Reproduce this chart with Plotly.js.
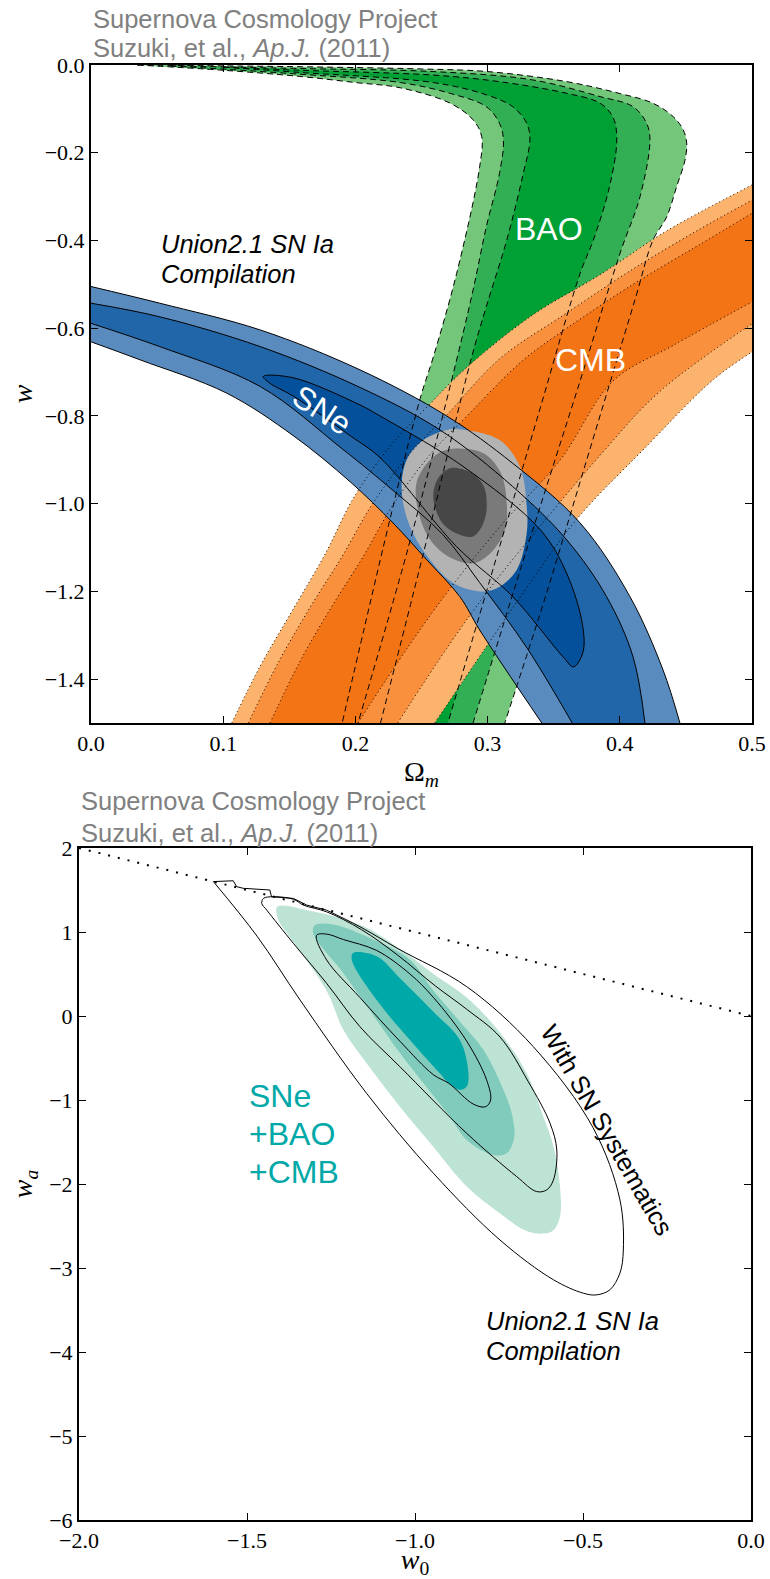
<!DOCTYPE html>
<html>
<head>
<meta charset="utf-8">
<script src="https://cdn.plot.ly/plotly-3.0.1.min.js"></script>
<style>html,body{margin:0;padding:0;background:#fff;}#chart{width:770px;height:1579px;}</style>
</head>
<body>
<div id="chart"></div>
<script>
// ---------- Top panel: Omega_m vs w (contour boundaries) ----------
// BAO (green), 3 levels: outer/inner boundary of each band
const bao3OuterOm = [0.035,0.10,0.16,0.25,0.30,0.36,0.40,0.425,0.4405,0.448,0.4506,0.4493,0.443,0.4355,0.425,0.412,0.393,0.37,0.345,0.313];
const bao3OuterW  = [0.0,-0.002,-0.004,-0.009,-0.015,-0.038,-0.065,-0.087,-0.118,-0.148,-0.178,-0.217,-0.277,-0.346,-0.40,-0.53,-0.72,-0.95,-1.20,-1.50];
const bao3InnerOm = [0.035,0.10,0.158,0.20,0.234,0.2716,0.289,0.2955,0.294,0.2766,0.259,0.249,0.225,0.207,0.19];
const bao3InnerW  = [0.0,-0.012,-0.026,-0.040,-0.052,-0.087,-0.125,-0.163,-0.232,-0.475,-0.665,-0.76,-1.05,-1.28,-1.5];
const bao2OuterOm = [0.06,0.158,0.259,0.334,0.385,0.41,0.4203,0.4228,0.4153,0.4002,0.37,0.33,0.289];
const bao2OuterW  = [-0.002,-0.008,-0.015,-0.034,-0.072,-0.095,-0.133,-0.171,-0.300,-0.429,-0.72,-1.10,-1.5];
const bao2InnerOm = [0.06,0.158,0.234,0.2716,0.299,0.309,0.312,0.309,0.299,0.289,0.2716,0.24,0.202];
const bao2InnerW  = [-0.002,-0.021,-0.040,-0.0646,-0.095,-0.133,-0.171,-0.247,-0.369,-0.513,-0.733,-1.10,-1.5];
const bao1OuterOm = [0.10,0.158,0.259,0.309,0.36,0.385,0.395,0.3977,0.392,0.38,0.37,0.34,0.305,0.27];
const bao1OuterW  = [-0.005,-0.012,-0.023,-0.038,-0.0646,-0.087,-0.12,-0.171,-0.28,-0.399,-0.475,-0.78,-1.14,-1.5];
const bao1InnerOm = [0.10,0.158,0.259,0.299,0.319,0.3296,0.332,0.327,0.3145,0.299,0.288,0.255,0.219];
const bao1InnerW  = [-0.005,-0.017,-0.040,-0.068,-0.095,-0.133,-0.171,-0.247,-0.399,-0.551,-0.665,-1.07,-1.5];

// CMB (orange): upper-left and lower-right boundary of each band
const cmb3UpOm = [0.1065,0.128,0.153,0.178,0.198,0.226,0.254,0.284,0.334,0.385,0.4355,0.5];
const cmb3UpW  = [-1.5,-1.37,-1.24,-1.11,-0.99,-0.87,-0.78,-0.69,-0.57,-0.478,-0.378,-0.2735];
const cmb3LoOm = [0.26,0.299,0.33,0.367,0.42,0.4705,0.5];
const cmb3LoW  = [-1.5,-1.326,-1.19,-1.037,-0.87,-0.718,-0.654];
const cmb2UpOm = [0.119,0.142,0.166,0.19,0.212,0.24,0.27,0.309,0.36,0.41,0.46,0.5];
const cmb2UpW  = [-1.5,-1.36,-1.235,-1.12,-1.005,-0.89,-0.795,-0.67,-0.565,-0.465,-0.375,-0.308];
const cmb2LoOm = [0.232,0.27,0.30,0.34,0.385,0.43,0.5];
const cmb2LoW  = [-1.5,-1.326,-1.2,-1.05,-0.89,-0.745,-0.59];
const cmb1UpOm = [0.1354,0.158,0.182,0.206,0.228,0.256,0.286,0.326,0.36,0.41,0.46,0.5];
const cmb1UpW  = [-1.5,-1.36,-1.235,-1.12,-1.005,-0.89,-0.795,-0.675,-0.60,-0.50,-0.41,-0.338];
const cmb1LoOm = [0.202,0.24,0.27,0.31,0.355,0.395,0.44,0.5];
const cmb1LoW  = [-1.5,-1.326,-1.2,-1.05,-0.9,-0.72,-0.64,-0.54];

// SNe (blue)
const sne3UpOm = [0,0.052,0.128,0.2035,0.269,0.319,0.37,0.4077,0.4327,0.4455];
const sne3UpW  = [-0.505,-0.543,-0.604,-0.695,-0.80,-0.908,-1.044,-1.212,-1.379,-1.5];
const sne3LoOm = [0,0.037,0.1026,0.153,0.196,0.2285,0.254,0.279,0.294,0.341];
const sne3LoW  = [-0.631,-0.672,-0.748,-0.845,-0.95,-1.044,-1.128,-1.212,-1.288,-1.5];
const sne2UpOm = [0,0.052,0.128,0.2035,0.264,0.319,0.36,0.39,0.41,0.419];
const sne2UpW  = [-0.543,-0.574,-0.642,-0.735,-0.832,-0.961,-1.083,-1.212,-1.349,-1.5];
const sne2LoOm = [0,0.052,0.128,0.19,0.2285,0.266,0.294,0.33,0.364];
const sne2LoW  = [-0.589,-0.642,-0.733,-0.875,-0.97,-1.07,-1.18,-1.33,-1.5];
const sne1Om = [0.1303,0.153,0.2035,0.2186,0.2814,0.34,0.36,0.372,0.372,0.365,0.357,0.319,0.2766,0.2186,0.196,0.153,0.135,0.1303];
const sne1W  = [-0.71,-0.713,-0.775,-0.80,-0.915,-1.06,-1.16,-1.28,-1.34,-1.372,-1.349,-1.212,-1.098,-0.895,-0.845,-0.755,-0.725,-0.71];

// Combined (gray)
const comb3Om = [0.2766,0.309,0.3245,0.3296,0.3296,0.322,0.307,0.294,0.274,0.2564,0.2413,0.235,0.2388,0.2514,0.269,0.2766];
const comb3W  = [-0.830,-0.855,-0.916,-1.007,-1.067,-1.151,-1.193,-1.200,-1.181,-1.128,-1.052,-0.969,-0.900,-0.855,-0.832,-0.830];
const comb2Om = [0.2766,0.297,0.31,0.3145,0.313,0.303,0.289,0.27,0.255,0.2464,0.2464,0.255,0.266,0.2766];
const comb2W  = [-0.874,-0.885,-0.93,-1.0,-1.06,-1.11,-1.136,-1.12,-1.075,-1.0,-0.95,-0.905,-0.88,-0.874];
const comb1Om = [0.2716,0.288,0.297,0.2993,0.296,0.289,0.278,0.266,0.259,0.262,0.2716];
const comb1W  = [-0.919,-0.93,-0.96,-1.01,-1.05,-1.075,-1.07,-1.045,-0.99,-0.945,-0.919];

const topXTicks = [0,0.1,0.2,0.3,0.4,0.5];
const topXTickText = ['0.0','0.1','0.2','0.3','0.4','0.5'];
const topYTicks = [0,-0.2,-0.4,-0.6,-0.8,-1.0,-1.2,-1.4];
const topYTickText = ['0.0','\u22120.2','\u22120.4','\u22120.6','\u22120.8','\u22121.0','\u22121.2','\u22121.4'];

// ---------- Bottom panel: w0 vs wa ----------
const limitW0 = [-2, 0];
const limitWa = [2, 0];
// black contours (with SN systematics); sys3 top edge is stepped
const sys3TopW0 = [-1.60,-1.541,-1.531,-1.511,-1.432,-1.427,-1.362,-1.322,-1.263];
const sys3TopWa = [1.60,1.61,1.54,1.52,1.50,1.42,1.40,1.32,1.26];
const sys3W0 = [-1.263,-1.164,-1.05,-0.846,-0.648,-0.47,-0.39,-0.38,-0.39,-0.42,-0.46,-0.499,-0.588,-0.747,-0.945,-1.144,-1.342,-1.47,-1.60];
const sys3Wa = [1.26,1.063,0.80,0.349,-0.365,-1.33,-2.19,-2.786,-3.06,-3.26,-3.32,-3.30,-3.14,-2.667,-1.873,-0.921,0.19,0.95,1.60];
const sys2W0 = [-1.451,-1.422,-1.362,-1.332,-1.263,-1.16,-1.05,-0.94,-0.846,-0.747,-0.663,-0.598,-0.578,-0.588,-0.608,-0.638,-0.697,-0.846,-1.045,-1.164,-1.263,-1.362,-1.441,-1.456,-1.451];
const sys2Wa = [1.40,1.42,1.39,1.32,1.24,1.03,0.72,0.36,0.08,-0.25,-0.78,-1.278,-1.595,-1.952,-2.07,-2.09,-1.913,-1.397,-0.603,-0.127,0.389,0.865,1.26,1.34,1.40];
const sys1W0 = [-1.293,-1.263,-1.213,-1.114,-1.015,-0.945,-0.846,-0.787,-0.775,-0.79,-0.826,-0.90,-0.945,-1.045,-1.164,-1.263,-1.293];
const sys1Wa = [0.96,0.975,0.91,0.78,0.50,0.22,-0.30,-0.76,-1.0,-1.08,-1.05,-0.80,-0.70,-0.30,0.22,0.667,0.96];
// filled contours SNe+BAO+CMB
const fit3W0 = [-1.41,-1.31,-1.16,-1.045,-0.945,-0.846,-0.747,-0.668,-0.618,-0.588,-0.5685,-0.5685,-0.588,-0.618,-0.668,-0.747,-0.846,-0.945,-1.045,-1.144,-1.213,-1.263,-1.362,-1.407,-1.41];
const fit3Wa = [1.30,1.25,1.08,0.80,0.50,0.22,-0.20,-0.68,-1.20,-1.55,-2.03,-2.39,-2.55,-2.59,-2.56,-2.35,-2.03,-1.56,-1.08,-0.563,-0.167,0.30,0.88,1.15,1.30];
const fit2W0 = [-1.298,-1.243,-1.13,-1.015,-0.945,-0.87,-0.797,-0.74,-0.712,-0.705,-0.727,-0.767,-0.846,-0.896,-0.945,-1.045,-1.114,-1.213,-1.303,-1.298];
const fit2Wa = [1.08,1.09,0.92,0.67,0.30,-0.05,-0.40,-0.85,-1.16,-1.45,-1.635,-1.655,-1.476,-1.2,-0.95,-0.44,-0.05,0.508,0.984,1.08];
const fit1W0 = [-1.184,-1.114,-1.045,-0.945,-0.866,-0.841,-0.846,-0.866,-0.90,-0.926,-1.015,-1.114,-1.188,-1.184];
const fit1Wa = [0.75,0.71,0.45,0.05,-0.29,-0.68,-0.84,-0.88,-0.80,-0.683,-0.286,0.19,0.667,0.75];

const botXTicks = [-2,-1.5,-1,-0.5,0];
const botXTickText = ['\u22122.0','\u22121.5','\u22121.0','\u22120.5','0.0'];
const botYTicks = [-6,-5,-4,-3,-2,-1,0,1,2];
const botYTickText = ['\u22126','\u22125','\u22124','\u22123','\u22122','\u22121','0','1','2'];

// ---------- build traces ----------
// Band polygon: boundary A then boundary B reversed; the junction points are repeated so the
// smoothed outline keeps a sharp corner where the band leaves the axes.
function band(xa, ya, xb, yb){
  const xr = xb.slice().reverse(), yr = yb.slice().reverse();
  return {x: xa.concat([xa[xa.length-1], xr[0]], xr), y: ya.concat([ya[ya.length-1], yr[0]], yr)};
}
function fillTrace(p, color, ax){
  return {type:'scatter', mode:'lines', x:p.x, y:p.y, fill:'toself', fillcolor:color,
    line:{width:0, color:color, shape:'spline', smoothing:1, simplify:false}, hoverinfo:'skip', showlegend:false, xaxis:ax[0], yaxis:ax[1]};
}
function lineTrace(x, y, dash, ax, w, shape){
  return {type:'scatter', mode:'lines', x:x, y:y, line:{color:'#000', width:w||1, dash:dash, shape:shape||'spline', smoothing:1},
    hoverinfo:'skip', showlegend:false, xaxis:ax[0], yaxis:ax[1]};
}
const A1 = ['x','y'], A2 = ['x2','y2'];
const traces = [];
// BAO fills
traces.push(fillTrace(band(bao3OuterOm,bao3OuterW,bao3InnerOm,bao3InnerW), '#74c67a', A1));
traces.push(fillTrace(band(bao2OuterOm,bao2OuterW,bao2InnerOm,bao2InnerW), '#32ae54', A1));
traces.push(fillTrace(band(bao1OuterOm,bao1OuterW,bao1InnerOm,bao1InnerW), '#00a035', A1));
// CMB fills
traces.push(fillTrace(band(cmb3UpOm,cmb3UpW,cmb3LoOm,cmb3LoW), '#fbb36d', A1));
traces.push(fillTrace(band(cmb2UpOm,cmb2UpW,cmb2LoOm,cmb2LoW), '#f8903e', A1));
traces.push(fillTrace(band(cmb1UpOm,cmb1UpW,cmb1LoOm,cmb1LoW), '#f37415', A1));
// SNe fills
traces.push(fillTrace(band(sne3UpOm,sne3UpW,sne3LoOm,sne3LoW), '#5a8bbf', A1));
traces.push(fillTrace(band(sne2UpOm,sne2UpW,sne2LoOm,sne2LoW), '#2066a8', A1));
traces.push(fillTrace({x:sne1Om, y:sne1W}, '#04509a', A1));
// combined fills
traces.push(fillTrace({x:comb3Om, y:comb3W}, '#b3b3b3', A1));
traces.push(fillTrace({x:comb2Om, y:comb2W}, '#7a7a7a', A1));
traces.push(fillTrace({x:comb1Om, y:comb1W}, '#474747', A1));
// BAO dashed outlines
[[bao3OuterOm,bao3OuterW],[bao3InnerOm,bao3InnerW],[bao2OuterOm,bao2OuterW],[bao2InnerOm,bao2InnerW],[bao1OuterOm,bao1OuterW],[bao1InnerOm,bao1InnerW]]
  .forEach(p => traces.push(lineTrace(p[0], p[1], '6px,4px', A1)));
// CMB dotted outlines
[[cmb3UpOm,cmb3UpW],[cmb3LoOm,cmb3LoW],[cmb2UpOm,cmb2UpW],[cmb2LoOm,cmb2LoW],[cmb1UpOm,cmb1UpW],[cmb1LoOm,cmb1LoW]]
  .forEach(p => traces.push(lineTrace(p[0], p[1], '1px,3px', A1)));
// SNe solid outlines
[[sne3UpOm,sne3UpW],[sne3LoOm,sne3LoW],[sne2UpOm,sne2UpW],[sne2LoOm,sne2LoW],[sne1Om,sne1W]]
  .forEach(p => traces.push(lineTrace(p[0], p[1], 'solid', A1)));

// bottom panel
traces.push(fillTrace({x:fit3W0, y:fit3Wa}, '#bde3d4', A2));
traces.push(fillTrace({x:fit2W0, y:fit2Wa}, '#80cbbc', A2));
traces.push(fillTrace({x:fit1W0, y:fit1Wa}, '#00a8a8', A2));
traces.push(lineTrace(sys3TopW0, sys3TopWa, 'solid', A2, 1, 'linear'));
[[sys3W0,sys3Wa],[sys2W0,sys2Wa],[sys1W0,sys1Wa]].forEach(p => traces.push(lineTrace(p[0], p[1], 'solid', A2)));
traces.push(lineTrace(limitW0, limitWa, '2px,8px', A2, 2, 'linear'));

// ---------- layout ----------
const W = 770, H = 1579, MB = 59, PH = H - MB;   // paper area ends at the lower panel's bottom axis
const px = v => v / W, py = v => 1 - v / PH;
const tickFont = {family:'Liberation Serif, Times New Roman, serif', size:22, color:'#000'};
const titleFont = {family:'Liberation Serif, Times New Roman, serif', size:28, color:'#000'};
function axis(extra){
  return Object.assign({showgrid:false, zeroline:false, showline:true, linecolor:'#000', linewidth:2,
    mirror:'ticks', ticks:'inside', ticklen:7, tickwidth:1, tickcolor:'#000', tickfont:tickFont,
    tickmode:'array', fixedrange:true}, extra);
}
const gray = '#808080';
const sans = 'Liberation Sans, Arial, Helvetica, sans-serif';
function ann(text, x, y, size, color, opts){
  return Object.assign({text:text, x:px(x), y:py(y), xref:'paper', yref:'paper', showarrow:false,
    xanchor:'left', yanchor:'middle', font:{family:sans, size:size, color:color}}, opts||{});
}
const layout = {
  width: W, height: H,
  margin: {l:0, r:0, t:0, b:MB},
  paper_bgcolor:'#fff', plot_bgcolor:'#fff',
  showlegend:false,
  xaxis: axis({domain:[px(91), px(752)], range:[0,0.5], anchor:'y', tickvals:topXTicks, ticktext:topXTickText,
    title:{text:'\u03a9<sub><i>m</i></sub>', font:titleFont, standoff:6}}),
  yaxis: axis({domain:[py(723), py(65)], range:[-1.5,0], anchor:'x', tickvals:topYTicks, ticktext:topYTickText,
    title:{text:'<i>w</i>', font:titleFont, standoff:4}}),
  xaxis2: axis({domain:[px(79), px(751)], range:[-2,0], anchor:'y2', tickvals:botXTicks, ticktext:botXTickText,
    title:{text:'<i>w</i><sub>0</sub>', font:titleFont, standoff:3}}),
  yaxis2: axis({domain:[0, py(848)], range:[-6,2], anchor:'x2', tickvals:botYTicks, ticktext:botYTickText,
    title:{text:'<i>w</i><sub><i>a</i></sub>', font:titleFont, standoff:8}}),
  annotations: [
    ann('Supernova Cosmology Project', 91, 19, 25.5, gray),
    ann('Suzuki, et al., <i>Ap.J.</i> (2011)', 91, 48, 25.5, gray),
    ann('Supernova Cosmology Project', 79, 801, 25.5, gray),
    ann('Suzuki, et al., <i>Ap.J.</i> (2011)', 79, 833, 25.5, gray),
    ann('<i>Union2.1 SN Ia</i>', 159, 244, 25.5, '#000'),
    ann('<i>Compilation</i>', 159, 274, 25.5, '#000'),
    ann('BAO', 549, 229, 32, '#fff', {xanchor:'center'}),
    ann('CMB', 590, 360, 32, '#fff', {xanchor:'center'}),
    ann('SNe', 322, 410, 32, '#fff', {xanchor:'center', textangle:33}),
    ann('SNe', 247, 1096, 32, '#00a8a8'),
    ann('+BAO', 247, 1134, 32, '#00a8a8'),
    ann('+CMB', 247, 1172, 32, '#00a8a8'),
    ann('With SN Systematics', 607, 1130, 25.5, '#000', {xanchor:'center', textangle:60}),
    ann('<i>Union2.1 SN Ia</i>', 484, 1321, 25.5, '#000'),
    ann('<i>Compilation</i>', 484, 1351, 25.5, '#000')
  ]
};
Plotly.newPlot('chart', traces, layout, {staticPlot:true, displayModeBar:false});
</script>
</body>
</html>
